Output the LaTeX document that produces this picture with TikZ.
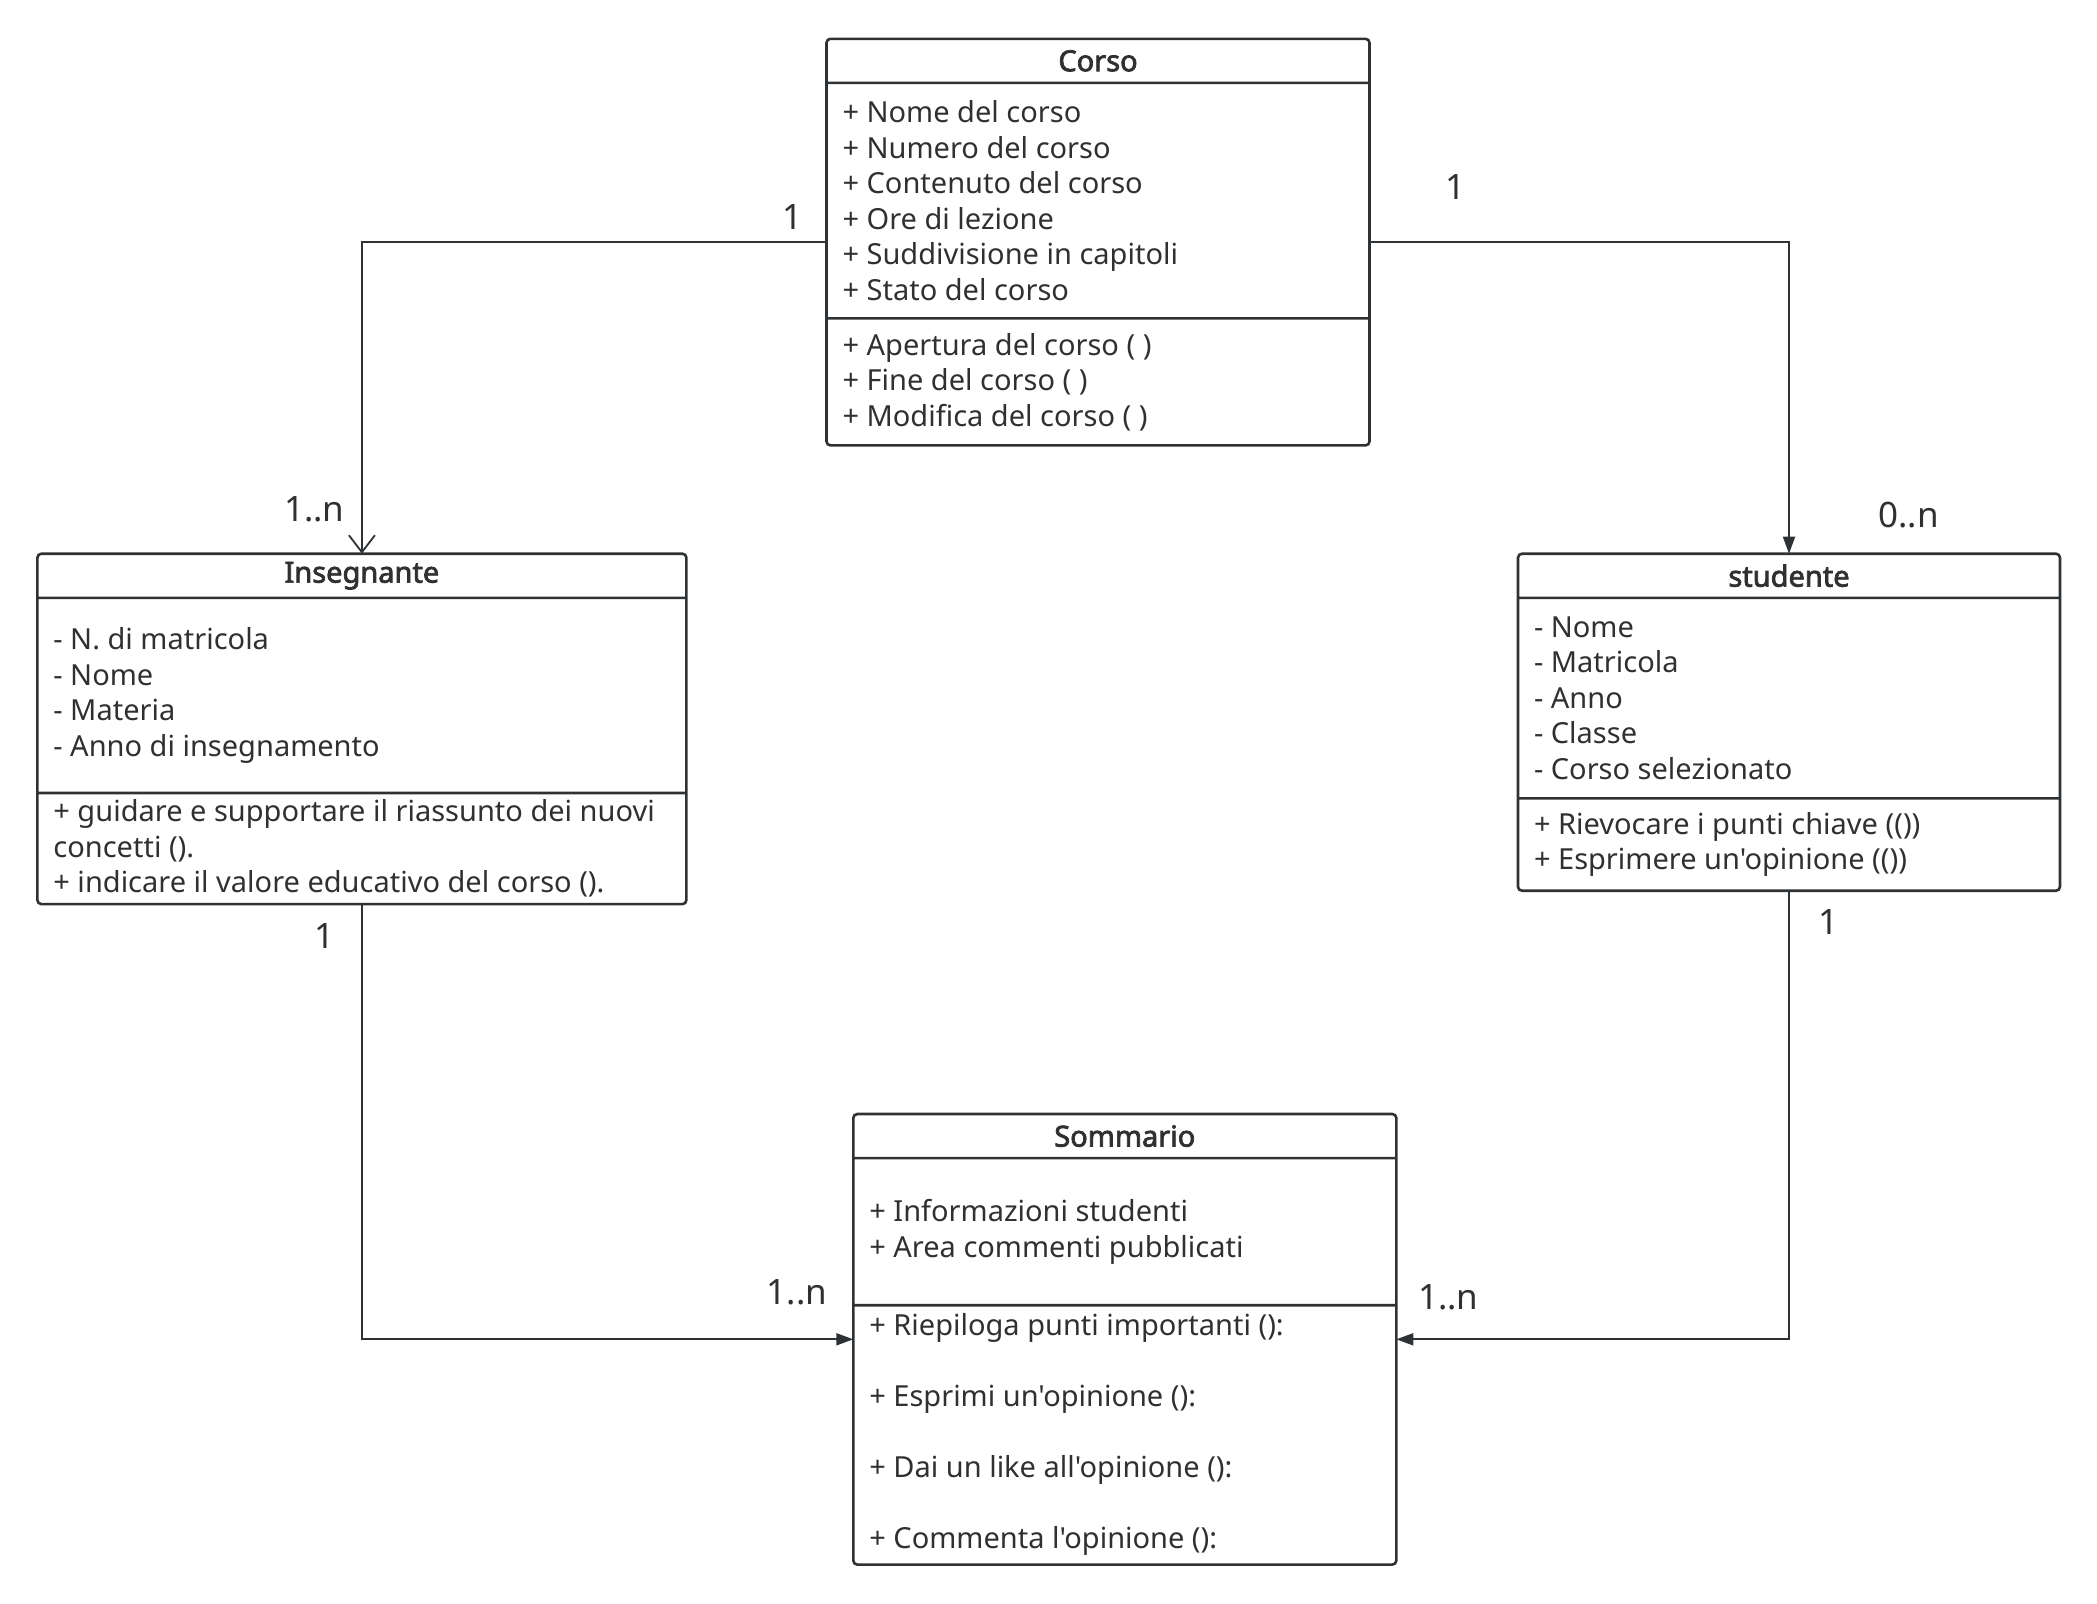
\documentclass[tikz,border=0pt]{standalone}
\usepackage{fontspec}
\newfontfamily\caratteri{Noto Sans}[AutoFakeBold=2.5]
\usetikzlibrary{shapes.multipart, arrows.meta, positioning}
\definecolor{tratto}{HTML}{2F3235}
\definecolor{testo}{HTML}{303030}
\newcommand{\testata}[2]{\parbox[c][41.5pt][c]{#1}{\centering\bfseries #2}}
\newcommand{\sezione}[3]{\parbox[c][#1][c]{#2}{\raggedright #3}}
\tikzset{
    classe/.style = {rectangle split, rectangle split parts=3, draw=tratto, line width=2.6pt,
                     rounded corners=4pt, inner xsep=16pt, inner ysep=0pt, outer sep=0pt,
                     anchor=north west, font=\caratteri\fontsize{29}{35.5}\selectfont, text=testo},
    lig/.style    = {line width=1.8pt, draw=tratto},
    piena/.style  = {lig, -{Triangle[length=17pt, width=12pt]}},
    aperta/.style = {lig, -{Straight Barb[length=17pt, width=26pt]}},
    molt/.style   = {font=\caratteri\fontsize{35}{42}\selectfont, text=testo, inner sep=0pt},
}

\begin{document}
\begin{tikzpicture}[x=1pt, y=-1pt]
    \useasboundingbox (0,0) rectangle (2097,1604);
    % classi
    \node[classe] (corso) at (826.5,38.8) {\testata{511pt}{Corso}
        \nodepart{two}\sezione{232.8pt}{511pt}{+ Nome del corso\\ + Numero del corso\\ + Contenuto del corso\\ + Ore di lezione\\ + Suddivisione in capitoli\\ + Stato del corso}
        \nodepart{three}\sezione{124.5pt}{511pt}{+ Apertura del corso ( )\\ + Fine del corso ( )\\ + Modifica del corso ( )}};
    \node[classe] (ins) at (37.4,553.7) {\testata{617pt}{Insegnante}
        \nodepart{two}\sezione{192.6pt}{617pt}{- N. di matricola\\ - Nome\\ - Materia\\ - Anno di insegnamento}
        \nodepart{three}\sezione{108.5pt}{617pt}{+ guidare e supportare il riassunto dei nuovi\\ concetti ().\\ + indicare il valore educativo del corso ().}};
    \node[classe] (stu) at (1518,553.7) {\testata{510pt}{studente}
        \nodepart{two}\sezione{198pt}{510pt}{- Nome\\ - Matricola\\ - Anno\\ - Classe\\ - Corso selezionato}
        \nodepart{three}\sezione{89.7pt}{510pt}{+ Rievocare i punti chiave (())\\ + Esprimere un'opinione (())}};
    \node[classe] (somm) at (853.3,1114) {\testata{511pt}{Sommario}
        \nodepart{two}\sezione{144.5pt}{511pt}{+ Informazioni studenti\\ + Area commenti pubblicati}
        \nodepart{three}\sezione{256.8pt}{511pt}{+ Riepiloga punti importanti ():\\[35.5pt] + Esprimi un'opinione ():\\[35.5pt] + Dai un like all'opinione ():\\[35.5pt] + Commenta l'opinione ():}};
    % associazioni
    \draw[aperta] (corso.west) -| (ins.north);
    \draw[piena] (corso.east) -| (stu.north);
    \draw[piena] (ins.south) |- (somm.west);
    \draw[piena] (stu.south) |- (somm.east);
    % molteplicita
    \node[molt] (m1) at (793,216.7) {1};
    \node[molt] (m2) at (314.3,509.5) {1..n};
    \node[molt] (m3) at (1455.1,187.2) {1};
    \node[molt] (m4) at (1908.5,514.9) {0..n};
    \node[molt] (m5) at (325,936.2) {1};
    \node[molt] (m6) at (797.1,1291.9) {1..n};
    \node[molt] (m7) at (1828.2,921.5) {1};
    \node[molt] (m8) at (1448.4,1297.3) {1..n};
\end{tikzpicture}
\end{document}
